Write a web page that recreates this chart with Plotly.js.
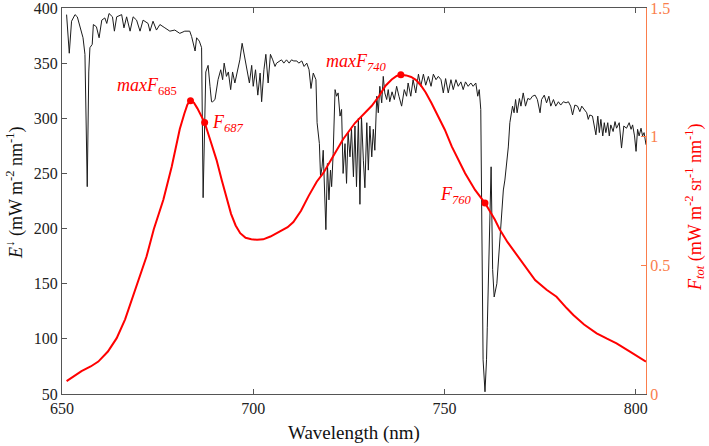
<!DOCTYPE html>
<html>
<head>
<meta charset="utf-8">
<script src="https://cdn.plot.ly/plotly-3.0.1.min.js"></script>
<style>html,body{margin:0;padding:0;background:#fff;}#chart{width:709px;height:446px;}</style>
</head>
<body>
<div id="chart"></div>
<script>
// Downwelling irradiance E (left axis, mW m-2 nm-1)
const irrWavelength = [651.2,651.9,652.5,653.4,654.0,654.7,655.5,656.0,656.6,657.0,657.3,657.9,658.2,659.0,659.7,660.4,661.2,661.7,662.3,663.2,663.7,664.3,665.6,666.2,666.9,667.8,668.6,669.5,670.4,671.2,672.5,673.0,673.8,674.7,675.6,676.9,678.2,679.5,680.8,682.1,683.4,683.9,684.8,685.2,685.9,686.5,686.9,687.6,688.2,688.7,689.1,689.4,690.0,690.8,691.5,692.0,692.4,693.0,693.5,694.1,694.6,695.2,695.8,696.5,697.1,697.6,698.3,699.0,699.6,700.0,700.6,701.2,701.8,702.2,702.8,703.3,703.9,704.5,705.1,705.7,706.1,707.0,707.4,708.0,708.7,709.4,710.0,710.6,711.4,711.9,712.7,713.3,714.0,714.6,715.1,715.7,716.4,716.7,717.3,717.6,718.0,718.3,718.8,719.0,719.4,719.8,720.2,720.5,720.9,721.4,721.8,722.2,722.7,723.1,723.5,724.0,724.4,724.8,725.3,725.7,726.2,726.6,727.0,727.5,727.9,728.3,728.8,729.2,729.7,730.1,730.5,731.0,731.4,731.8,732.3,732.7,733.1,733.6,734.0,734.4,734.9,735.3,735.7,736.3,736.9,737.5,738.1,738.8,739.5,740.1,740.5,741.2,741.8,742.5,743.2,743.8,744.5,745.1,745.8,746.5,747.1,747.8,748.4,749.1,749.7,750.3,751.0,751.7,752.3,753.0,753.6,754.3,754.9,755.5,756.2,756.9,757.5,758.2,758.7,759.1,759.5,759.7,760.1,760.6,761.0,761.2,761.7,762.2,762.6,763.0,763.7,764.1,764.5,765.0,765.4,765.8,766.3,766.7,767.1,767.6,767.8,768.2,768.6,769.0,769.6,770.0,770.6,771.2,771.8,772.4,773.0,773.7,774.3,775.0,775.4,776.1,776.7,777.3,777.8,778.5,779.1,779.8,780.4,781.1,781.8,782.4,783.0,783.5,784.1,784.8,785.4,785.9,786.5,787.2,787.6,788.0,788.7,789.2,789.6,790.1,790.5,790.9,791.4,791.8,792.2,792.7,793.1,793.5,794.1,794.6,795.0,795.7,796.3,796.9,797.6,798.3,798.8,799.2,799.7,800.1,800.5,800.9,801.4,801.8,802.2,802.7];
const irrValues = [394,359,388,394,392,382,373,358,238,342,364,367,385,383,373,389,391,386,395,392,379,392,394,382,392,379,392,389,379,389,386,379,388,380,385,382,379,380,377,379,379,374,361,373,370,364,228,342,348,329,315,315,317,335,344,335,350,338,342,326,342,332,341,353,368,359,344,332,348,329,344,321,341,315,344,358,332,358,353,347,350,352,353,350,353,350,353,352,352,350,352,347,350,344,327,341,335,296,277,247,256,271,224,199,259,226,253,238,268,326,320,323,302,308,250,277,241,287,265,290,247,293,238,300,222,302,262,237,296,253,293,265,290,271,320,305,329,314,338,323,317,326,315,324,317,329,320,311,326,320,332,320,335,323,340,329,340,330,338,329,340,335,338,335,323,336,323,335,326,335,329,333,326,333,329,332,329,332,320,326,308,202,81,52,81,110,200,256,163,138,150,169,187,208,235,244,259,274,296,305,311,305,317,305,318,311,323,311,318,317,320,321,317,305,317,321,314,320,311,317,311,315,312,315,314,315,311,303,312,311,306,311,308,305,299,303,302,294,285,302,287,299,284,296,287,296,284,294,288,297,291,296,273,293,291,296,290,294,284,270,290,284,291,284,287,276];

// Total fluorescence F_tot (right axis, mW m-2 sr-1 nm-1)
const fluWavelength = [651.2,653.0,655.1,657.5,659.5,662.0,664.3,666.5,669.5,672.1,674.0,676.5,678.7,680.8,682.0,682.8,683.6,684.5,685.4,686.3,687.3,688.8,690.4,691.8,693.0,694.2,695.4,696.6,698.0,699.5,701.0,702.6,704.5,707.0,709.0,710.5,712.5,714.5,716.6,718.3,720.9,723.5,726.6,729.0,731.0,733.0,734.6,736.2,737.5,738.6,740.0,741.3,742.5,743.8,745.1,746.6,748.4,750.1,751.9,753.6,755.4,758.0,760.6,763.2,764.5,766.5,768.0,770.6,772.3,773.7,776.7,779.3,782.0,783.7,786.5,789.8,792.5,795.0,798.5,802.7];
const fluValues = [0.05,0.068,0.089,0.107,0.126,0.165,0.217,0.29,0.417,0.534,0.64,0.755,0.884,1.03,1.09,1.125,1.14,1.132,1.11,1.085,1.055,0.985,0.91,0.83,0.76,0.7,0.655,0.625,0.607,0.601,0.599,0.601,0.612,0.631,0.648,0.668,0.712,0.77,0.825,0.858,0.925,0.99,1.053,1.09,1.12,1.16,1.198,1.222,1.236,1.241,1.238,1.232,1.221,1.2,1.172,1.131,1.079,1.027,0.962,0.91,0.858,0.793,0.742,0.677,0.638,0.59,0.56,0.508,0.47,0.443,0.405,0.378,0.333,0.307,0.27,0.236,0.215,0.197,0.165,0.126];

// Marked fluorescence features
const markX = [683.6, 687.3, 738.6, 760.6];
const markY = [1.14, 1.055, 1.241, 0.742];
const markLabels = ['<i>maxF</i><sub>685</sub>', '<i>F</i><sub><i>687</i></sub>', '<i>maxF</i><sub><i>740</i></sub>', '<i>F</i><sub><i>760</i></sub>'];
const labelX = [680.6, 688.6, 735.5, 757.7];
const labelY = [1.195, 1.05, 1.29, 0.77];
const labelAnchor = ['right', 'left', 'right', 'right'];

const leftTicks = [50,100,150,200,250,300,350,400];
const rightTicks = [0,0.5,1,1.5];
const rightTickText = ['0','0.5','1','1.5'];
const xTicks = [650,700,750,800];

const FONT = 'Liberation Serif, Times New Roman, serif';
const CORAL = '#fa7d4c';
const RED = '#ff0000';

const traces = [
  {x: irrWavelength, y: irrValues, type: 'scatter', mode: 'lines', yaxis: 'y',
   line: {color: '#1c1c1c', width: 1}},
  {x: fluWavelength, y: fluValues, type: 'scatter', mode: 'lines', yaxis: 'y2',
   line: {color: RED, width: 2}},
  {x: markX, y: markY, type: 'scatter', mode: 'markers', yaxis: 'y2',
   marker: {color: RED, size: 7}}
];

const annotations = markLabels.map((t, i) => ({
  x: labelX[i], y: labelY[i], xref: 'x', yref: 'y2', text: t, showarrow: false,
  xanchor: labelAnchor[i], yanchor: 'middle',
  font: {family: FONT, size: 18, color: RED}
}));
annotations.push({
  xref: 'paper', yref: 'paper', x: 0, y: 0.521, xshift: -47, xanchor: 'center', yanchor: 'middle',
  textangle: -90, showarrow: false,
  text: '<i>E</i><sup>↓</sup> (mW m<sup>-2</sup> nm<sup>-1</sup>)',
  font: {family: FONT, size: 18, color: '#111'}
});
annotations.push({
  xref: 'paper', yref: 'paper', x: 1, y: 0.482, xshift: 49, xanchor: 'center', yanchor: 'middle',
  textangle: -90, showarrow: false,
  text: '<i>F</i><sub><i>tot</i></sub> (mW m<sup>-2</sup> sr<sup>-1</sup> nm<sup>-1</sup>)',
  font: {family: FONT, size: 18, color: RED}
});
annotations.push({
  xref: 'paper', yref: 'paper', x: 0.5, y: 0, yshift: -39, xanchor: 'center', yanchor: 'middle',
  showarrow: false, text: 'Wavelength (nm)',
  font: {family: FONT, size: 19, color: '#111'}
});

const layout = {
  width: 709, height: 446,
  margin: {l: 62, r: 63, t: 8, b: 52},
  paper_bgcolor: '#fff', plot_bgcolor: '#fff',
  showlegend: false,
  font: {family: FONT, size: 15, color: '#222'},
  xaxis: {
    range: [650, 802.7], tickvals: xTicks, ticks: 'inside', ticklen: 5, tickcolor: '#555',
    showline: true, linecolor: '#555', linewidth: 1, mirror: 'ticks', showgrid: false, zeroline: false,
    ticklabeloverflow: 'allow',
    tickfont: {family: FONT, size: 16, color: '#222'}
  },
  yaxis: {
    range: [50, 400], tickvals: leftTicks, ticks: 'inside', ticklen: 5, tickcolor: '#555',
    showline: true, linecolor: '#555', linewidth: 1, showgrid: false, zeroline: false,
    ticklabeloverflow: 'allow',
    tickfont: {family: FONT, size: 16, color: '#222'}
  },
  yaxis2: {
    range: [0, 1.5], tickvals: rightTicks, ticktext: rightTickText, overlaying: 'y', side: 'right',
    ticks: 'inside', ticklen: 5, tickcolor: CORAL,
    showline: true, linecolor: CORAL, linewidth: 1, showgrid: false, zeroline: false,
    ticklabeloverflow: 'allow',
    tickfont: {family: FONT, size: 16, color: CORAL}
  },
  annotations: annotations
};

Plotly.newPlot('chart', traces, layout, {displayModeBar: false, staticPlot: true});
</script>
</body>
</html>
